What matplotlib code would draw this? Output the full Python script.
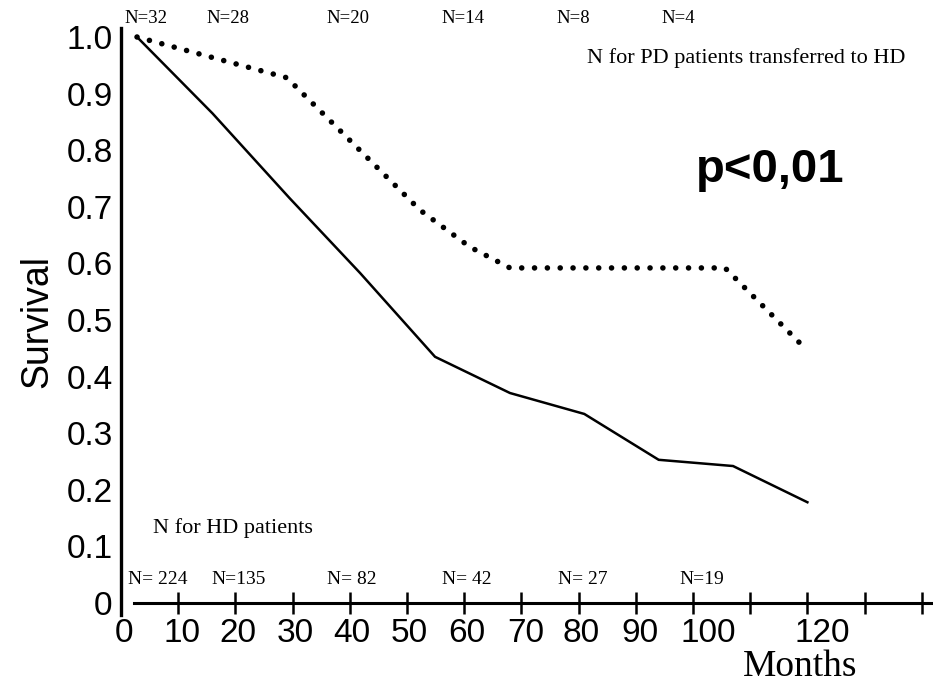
import matplotlib
matplotlib.use("Agg")
import matplotlib.pyplot as plt
import matplotlib.transforms as mtransforms

# HD patients (solid line)
hd_months = [2.8, 16, 29.5, 41.8, 54.9, 68, 81, 94, 107, 120]
hd_surv = [1.0, 0.865, 0.715, 0.583, 0.435, 0.371, 0.334, 0.253, 0.242, 0.178]

# PD patients transferred to HD (dotted line)
pd_months = [2.8, 29, 52.3, 61, 68, 105.6, 119]
pd_surv = [1.0, 0.928, 0.694, 0.629, 0.592, 0.592, 0.456]

# numbers at risk
pd_n = ["N=32", "N=28", "N=20", "N=14", "N=8", "N=4"]
pd_n_x = [4.4, 18.7, 39.7, 59.8, 79, 97.5]
hd_n = ["N= 224", "N=135", "N= 82", "N= 42", "N= 27", "N=19"]
hd_n_x = [6.5, 20.5, 40.4, 60.5, 80.8, 101.6]

x_ticks = list(range(0, 150, 10))
x_labels = ["0", "10", "20", "30", "40", "50", "60", "70", "80", "90", "100", "", "120", "", ""]
# labels in the scan sit a little right of their ticks (points)
x_label_shift = [2, 3, 2, 2, 1.5, 1.5, 2, 3, 2, 3, 11, 0, 11, 0, 0]
y_ticks = [0, 0.1, 0.2, 0.3, 0.4, 0.5, 0.6, 0.7, 0.8, 0.9, 1.0]
y_labels = ["0", "0.1", "0.2", "0.3", "0.4", "0.5", "0.6", "0.7", "0.8", "0.9", "1.0"]

sans = "Liberation Sans"
serif = "Liberation Serif"

fig = plt.figure(figsize=(9.33, 6.85), dpi=100)
ax = fig.add_axes([121 / 933, 70 / 685, 812 / 933, 587 / 685])
ax.set_xlim(0, 812 / 5.72)
ax.set_ylim(-12 / 566, 575 / 566)

ax.plot(hd_months, hd_surv, color="black", lw=1.8, solid_joinstyle="miter")
ax.plot(pd_months, pd_surv, color="black", lw=4.0,
        linestyle=(0, (0.01, 2.3)), dash_capstyle="round")

for s in ["top", "right"]:
    ax.spines[s].set_visible(False)
ax.spines["left"].set_linewidth(2.4)
ax.spines["bottom"].set_position(("data", 0))
ax.spines["bottom"].set_bounds(2.3, 142)
ax.spines["bottom"].set_linewidth(2.2)

ax.set_xticks(x_ticks)
ax.set_xticklabels(x_labels, fontfamily=sans, fontsize=24)
ax.set_yticks(y_ticks)
ax.set_yticklabels(y_labels, fontfamily=sans, fontsize=24)
ax.tick_params(axis="x", direction="inout", length=16, width=1.8, pad=3)
ax.tick_params(axis="y", length=0, pad=6)

for lab, dx in zip(ax.get_xticklabels(), x_label_shift):
    lab.set_transform(lab.get_transform() +
                      mtransforms.ScaledTranslation(dx / 72, 0, fig.dpi_scale_trans))

ax.set_ylabel("Survival", fontfamily=sans, fontsize=27, labelpad=8)

for lab, x in zip(pd_n, pd_n_x):
    ax.text(x, 1.032, lab, fontfamily=serif, fontsize=13.5, ha="center", va="center")
for lab, x in zip(hd_n, hd_n_x):
    ax.text(x, 0.041, lab, fontfamily=serif, fontsize=14, ha="center", va="center")

ax.text(137.1, 0.962, "N for PD patients transferred to HD",
        fontfamily=serif, fontsize=16, ha="right", va="center")
ax.text(5.6, 0.133, "N for HD patients", fontfamily=serif, fontsize=16, ha="left", va="center")
ax.text(113.5, 0.765, "p<0,01", fontfamily=sans,
        fontsize=34, fontweight="bold", ha="center", va="center")
ax.text(0.836, -0.089, "Months", transform=ax.transAxes, fontfamily=serif,
        fontsize=27, ha="center", va="center")

fig.savefig("out.png", dpi=100)
